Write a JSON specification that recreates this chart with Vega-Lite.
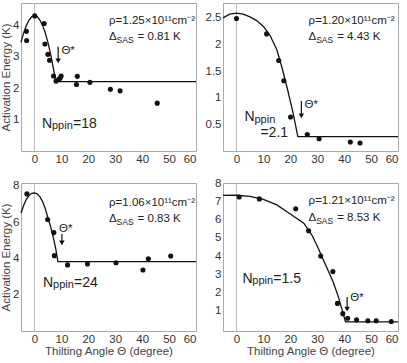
{
  "$schema": "https://vega.github.io/schema/vega-lite/v6.json",
  "padding": {"left": 0, "top": 2, "right": 0, "bottom": 0},
  "columns": 2,
  "spacing": {"row": 32, "column": 27},
  "bounds": "flush",
  "datasets": {
    "pts": [
      {"p":1,"x":-3.0,"y":3.80},{"p":1,"x":-2.9,"y":3.51},{"p":1,"x":0.1,"y":4.29},{"p":1,"x":3.6,"y":4.05},{"p":1,"x":3.9,"y":3.40},{"p":1,"x":5.0,"y":3.07},{"p":1,"x":5.6,"y":2.88},{"p":1,"x":7.1,"y":2.38},{"p":1,"x":8.0,"y":2.22},{"p":1,"x":9.0,"y":2.28},{"p":1,"x":9.5,"y":2.31},{"p":1,"x":9.9,"y":2.38},{"p":1,"x":15.6,"y":2.11},{"p":1,"x":15.9,"y":2.37},{"p":1,"x":20.6,"y":2.18},{"p":1,"x":28.2,"y":1.96},{"p":1,"x":31.8,"y":1.91},{"p":1,"x":45.6,"y":1.52},
      {"p":2,"x":0,"y":2.49},{"p":2,"x":11.2,"y":2.20},{"p":2,"x":15.7,"y":1.70},{"p":2,"x":17.6,"y":1.32},{"p":2,"x":20.1,"y":0.64},{"p":2,"x":26.3,"y":0.31},{"p":2,"x":30.7,"y":0.23},{"p":2,"x":42.3,"y":0.17},{"p":2,"x":45.9,"y":0.15},
      {"p":3,"x":-2.8,"y":7.55},{"p":3,"x":4.9,"y":6.14},{"p":3,"x":7.2,"y":5.42},{"p":3,"x":7.4,"y":4.15},{"p":3,"x":12.3,"y":3.64},{"p":3,"x":19.7,"y":3.69},{"p":3,"x":30.3,"y":3.76},{"p":3,"x":40.3,"y":3.36},{"p":3,"x":42.3,"y":3.98},{"p":3,"x":50.6,"y":4.13},
      {"p":4,"x":1.0,"y":7.23},{"p":4,"x":8.5,"y":7.13},{"p":4,"x":22.0,"y":6.59},{"p":4,"x":26.8,"y":5.39},{"p":4,"x":31.3,"y":4.0},{"p":4,"x":35.8,"y":3.15},{"p":4,"x":37.5,"y":1.41},{"p":4,"x":39.5,"y":0.85},{"p":4,"x":41.3,"y":0.6},{"p":4,"x":44.6,"y":0.51},{"p":4,"x":48.8,"y":0.46},{"p":4,"x":51.9,"y":0.46},{"p":4,"x":57.5,"y":0.42}
    ],
    "fit": [
      {"p":1,"x":-5,"y":3.45},{"p":1,"x":-4,"y":3.75},{"p":1,"x":-3,"y":3.99},{"p":1,"x":-2,"y":4.16},{"p":1,"x":-1,"y":4.27},{"p":1,"x":0,"y":4.3},{"p":1,"x":1,"y":4.27},{"p":1,"x":2,"y":4.16},{"p":1,"x":3,"y":3.99},{"p":1,"x":4,"y":3.76},{"p":1,"x":5,"y":3.45},{"p":1,"x":6,"y":3.08},{"p":1,"x":7,"y":2.63},{"p":1,"x":8,"y":2.2},{"p":1,"x":60,"y":2.2},
      {"p":2,"x":-5,"y":2.5},{"p":2,"x":-2.5,"y":2.57},{"p":2,"x":0,"y":2.59},{"p":2,"x":2.5,"y":2.57},{"p":2,"x":5,"y":2.52},{"p":2,"x":7.5,"y":2.45},{"p":2,"x":10,"y":2.34},{"p":2,"x":12.5,"y":2.17},{"p":2,"x":15,"y":1.9},{"p":2,"x":17,"y":1.55},{"p":2,"x":19,"y":1.15},{"p":2,"x":21,"y":0.72},{"p":2,"x":22.8,"y":0.27},{"p":2,"x":60,"y":0.27},
      {"p":3,"x":-5,"y":6.5},{"p":3,"x":-4,"y":6.92},{"p":3,"x":-3,"y":7.25},{"p":3,"x":-2,"y":7.47},{"p":3,"x":-1,"y":7.58},{"p":3,"x":0,"y":7.6},{"p":3,"x":1,"y":7.55},{"p":3,"x":2,"y":7.4},{"p":3,"x":3,"y":7.13},{"p":3,"x":4,"y":6.75},{"p":3,"x":5,"y":6.22},{"p":3,"x":6,"y":5.75},{"p":3,"x":7,"y":5.15},{"p":3,"x":8,"y":4.45},{"p":3,"x":8.7,"y":3.82},{"p":3,"x":60,"y":3.82},
      {"p":4,"x":-5,"y":7.32},{"p":4,"x":0,"y":7.33},{"p":4,"x":5,"y":7.27},{"p":4,"x":10,"y":7.1},{"p":4,"x":15,"y":6.8},{"p":4,"x":20,"y":6.3},{"p":4,"x":25,"y":5.8},{"p":4,"x":28,"y":5.15},{"p":4,"x":30,"y":4.55},{"p":4,"x":33,"y":3.55},{"p":4,"x":36,"y":2.55},{"p":4,"x":38,"y":1.7},{"p":4,"x":40.5,"y":0.4},{"p":4,"x":60,"y":0.4}
    ],
    "arr": [
      {"p":1,"x":8.8,"y":3.31,"y2":2.92,"yh":2.86},
      {"p":2,"x":24.1,"y":0.94,"y2":0.70,"yh":0.66},
      {"p":3,"x":10.2,"y":5.34,"y2":4.96,"yh":4.85},
      {"p":4,"x":41.1,"y":1.76,"y2":1.21,"yh":1.10}
    ],
    "ann": [
      {"p":1,"r":"m","x":27.7,"y":4.13,"t":"ρ=1.25×10¹¹cm⁻²"},
      {"p":1,"r":"m","x":27.7,"y":3.62,"t":"Δ"},
      {"p":1,"r":"s","x":30.5,"y":3.52,"t":"SAS"},
      {"p":1,"r":"m","x":38.3,"y":3.62,"t":"= 0.81 K"},
      {"p":1,"r":"N","x":2.8,"y":0.86,"t":"N"},
      {"p":1,"r":"pp","x":6.5,"y":0.79,"t":"ppin"},
      {"p":1,"r":"N","x":14.3,"y":0.86,"t":"=18"},
      {"p":1,"r":"m","x":10.0,"y":3.17,"t":"Θ*"},
      {"p":2,"r":"m","x":26.8,"y":2.44,"t":"ρ=1.20×10¹¹cm⁻²"},
      {"p":2,"r":"m","x":26.8,"y":2.14,"t":"Δ"},
      {"p":2,"r":"s","x":29.6,"y":2.08,"t":"SAS"},
      {"p":2,"r":"m","x":37.4,"y":2.14,"t":"= 4.43 K"},
      {"p":2,"r":"N","x":3.0,"y":0.63,"t":"N"},
      {"p":2,"r":"pp","x":6.7,"y":0.59,"t":"ppin"},
      {"p":2,"r":"N","x":8.9,"y":0.34,"t":"=2.1"},
      {"p":2,"r":"m","x":25.3,"y":0.86,"t":"Θ*"},
      {"p":3,"r":"m","x":27.7,"y":7.05,"t":"ρ=1.06×10¹¹cm⁻²"},
      {"p":3,"r":"m","x":27.7,"y":6.17,"t":"Δ"},
      {"p":3,"r":"s","x":30.5,"y":6.0,"t":"SAS"},
      {"p":3,"r":"m","x":38.3,"y":6.17,"t":"= 0.83 K"},
      {"p":3,"r":"N","x":3.2,"y":2.66,"t":"N"},
      {"p":3,"r":"pp","x":6.9,"y":2.55,"t":"ppin"},
      {"p":3,"r":"N","x":14.7,"y":2.66,"t":"=24"},
      {"p":3,"r":"m","x":9.1,"y":5.6,"t":"Θ*"},
      {"p":4,"r":"m","x":26.8,"y":7.02,"t":"ρ=1.21×10¹¹cm⁻²"},
      {"p":4,"r":"m","x":26.8,"y":6.10,"t":"Δ"},
      {"p":4,"r":"s","x":29.6,"y":5.94,"t":"SAS"},
      {"p":4,"r":"m","x":37.4,"y":6.10,"t":"= 8.53 K"},
      {"p":4,"r":"N","x":2.2,"y":2.73,"t":"N"},
      {"p":4,"r":"pp","x":5.9,"y":2.62,"t":"ppin"},
      {"p":4,"r":"N","x":13.7,"y":2.73,"t":"=1.5"},
      {"p":4,"r":"m","x":42.3,"y":1.72,"t":"Θ*"}
    ]
  },
  "concat": [
    {
      "width": 175, "height": 148,
      "layer": [
        {"data": {"values": [{"x": 0}]}, "mark": {"type": "rule", "color": "#bbb", "strokeWidth": 1},
         "encoding": {"x": {"field": "x", "type": "quantitative", "scale": {"domain": [-5, 60], "nice": false, "zero": false}, "axis": {"values": [0,10,20,30,40,50,60], "tickCount": 30, "format": "~g", "title": null}}}},
        {"data": {"name": "fit"}, "transform": [{"filter": "datum.p==1"}], "mark": {"type": "line", "color": "#111", "strokeWidth": 1.3},
         "encoding": {"x": {"field": "x", "type": "quantitative"}, "y": {"field": "y", "type": "quantitative", "scale": {"domain": [0, 4.7], "nice": false}, "axis": {"values": [1,2,3,4], "tickCount": 30, "format": "~g", "title": "Activation Energy (K)"}}}},
        {"data": {"name": "pts"}, "transform": [{"filter": "datum.p==1"}], "mark": {"type": "circle", "color": "#111", "size": 26, "opacity": 1},
         "encoding": {"x": {"field": "x", "type": "quantitative"}, "y": {"field": "y", "type": "quantitative"}}},
        {"data": {"name": "arr"}, "transform": [{"filter": "datum.p==1"}], "mark": {"type": "rule", "color": "#111", "strokeWidth": 1.2},
         "encoding": {"x": {"field": "x", "type": "quantitative"}, "y": {"field": "y", "type": "quantitative"}, "y2": {"field": "y2"}}},
        {"data": {"name": "arr"}, "transform": [{"filter": "datum.p==1"}], "mark": {"type": "point", "shape": "triangle-down", "filled": true, "color": "#111", "size": 30, "opacity": 1},
         "encoding": {"x": {"field": "x", "type": "quantitative"}, "y": {"field": "yh", "type": "quantitative"}}},
        {"data": {"name": "ann"}, "transform": [{"filter": "datum.p==1 && datum.r=='m'"}], "mark": {"type": "text", "fontSize": 11.5, "font": "Liberation Sans", "color": "#222", "align": "left", "baseline": "middle"},
         "encoding": {"x": {"field": "x", "type": "quantitative"}, "y": {"field": "y", "type": "quantitative"}, "text": {"field": "t"}}},
        {"data": {"name": "ann"}, "transform": [{"filter": "datum.p==1 && datum.r=='s'"}], "mark": {"type": "text", "fontSize": 8.5, "font": "Liberation Sans", "color": "#222", "align": "left", "baseline": "middle"},
         "encoding": {"x": {"field": "x", "type": "quantitative"}, "y": {"field": "y", "type": "quantitative"}, "text": {"field": "t"}}},
        {"data": {"name": "ann"}, "transform": [{"filter": "datum.p==1 && datum.r=='N'"}], "mark": {"type": "text", "fontSize": 14, "font": "Liberation Sans", "color": "#222", "align": "left", "baseline": "middle"},
         "encoding": {"x": {"field": "x", "type": "quantitative"}, "y": {"field": "y", "type": "quantitative"}, "text": {"field": "t"}}},
        {"data": {"name": "ann"}, "transform": [{"filter": "datum.p==1 && datum.r=='pp'"}], "mark": {"type": "text", "fontSize": 11, "font": "Liberation Sans", "color": "#222", "align": "left", "baseline": "middle"},
         "encoding": {"x": {"field": "x", "type": "quantitative"}, "y": {"field": "y", "type": "quantitative"}, "text": {"field": "t"}}}
      ]
    },
    {
      "width": 175, "height": 148,
      "layer": [
        {"data": {"values": [{"x": 0}]}, "mark": {"type": "rule", "color": "#bbb", "strokeWidth": 1},
         "encoding": {"x": {"field": "x", "type": "quantitative", "scale": {"domain": [-5, 60], "nice": false, "zero": false}, "axis": {"values": [0,10,20,30,40,50,60], "tickCount": 30, "format": "~g", "title": null}}}},
        {"data": {"name": "fit"}, "transform": [{"filter": "datum.p==2"}], "mark": {"type": "line", "color": "#111", "strokeWidth": 1.3},
         "encoding": {"x": {"field": "x", "type": "quantitative"}, "y": {"field": "y", "type": "quantitative", "scale": {"domain": [0, 2.78], "nice": false}, "axis": {"values": [0.5,1,1.5,2,2.5], "tickCount": 30, "format": "~g", "title": null}}}},
        {"data": {"name": "pts"}, "transform": [{"filter": "datum.p==2"}], "mark": {"type": "circle", "color": "#111", "size": 26, "opacity": 1},
         "encoding": {"x": {"field": "x", "type": "quantitative"}, "y": {"field": "y", "type": "quantitative"}}},
        {"data": {"name": "arr"}, "transform": [{"filter": "datum.p==2"}], "mark": {"type": "rule", "color": "#111", "strokeWidth": 1.2},
         "encoding": {"x": {"field": "x", "type": "quantitative"}, "y": {"field": "y", "type": "quantitative"}, "y2": {"field": "y2"}}},
        {"data": {"name": "arr"}, "transform": [{"filter": "datum.p==2"}], "mark": {"type": "point", "shape": "triangle-down", "filled": true, "color": "#111", "size": 30, "opacity": 1},
         "encoding": {"x": {"field": "x", "type": "quantitative"}, "y": {"field": "yh", "type": "quantitative"}}},
        {"data": {"name": "ann"}, "transform": [{"filter": "datum.p==2 && datum.r=='m'"}], "mark": {"type": "text", "fontSize": 11.5, "font": "Liberation Sans", "color": "#222", "align": "left", "baseline": "middle"},
         "encoding": {"x": {"field": "x", "type": "quantitative"}, "y": {"field": "y", "type": "quantitative"}, "text": {"field": "t"}}},
        {"data": {"name": "ann"}, "transform": [{"filter": "datum.p==2 && datum.r=='s'"}], "mark": {"type": "text", "fontSize": 8.5, "font": "Liberation Sans", "color": "#222", "align": "left", "baseline": "middle"},
         "encoding": {"x": {"field": "x", "type": "quantitative"}, "y": {"field": "y", "type": "quantitative"}, "text": {"field": "t"}}},
        {"data": {"name": "ann"}, "transform": [{"filter": "datum.p==2 && datum.r=='N'"}], "mark": {"type": "text", "fontSize": 14, "font": "Liberation Sans", "color": "#222", "align": "left", "baseline": "middle"},
         "encoding": {"x": {"field": "x", "type": "quantitative"}, "y": {"field": "y", "type": "quantitative"}, "text": {"field": "t"}}},
        {"data": {"name": "ann"}, "transform": [{"filter": "datum.p==2 && datum.r=='pp'"}], "mark": {"type": "text", "fontSize": 11, "font": "Liberation Sans", "color": "#222", "align": "left", "baseline": "middle"},
         "encoding": {"x": {"field": "x", "type": "quantitative"}, "y": {"field": "y", "type": "quantitative"}, "text": {"field": "t"}}}
      ]
    },
    {
      "width": 175, "height": 148,
      "layer": [
        {"data": {"values": [{"x": 0}]}, "mark": {"type": "rule", "color": "#bbb", "strokeWidth": 1},
         "encoding": {"x": {"field": "x", "type": "quantitative", "scale": {"domain": [-5, 60], "nice": false, "zero": false}, "axis": {"values": [0,10,20,30,40,50,60], "tickCount": 30, "format": "~g", "title": "Thilting Angle Θ (degree)"}}}},
        {"data": {"name": "fit"}, "transform": [{"filter": "datum.p==3"}], "mark": {"type": "line", "color": "#111", "strokeWidth": 1.3},
         "encoding": {"x": {"field": "x", "type": "quantitative"}, "y": {"field": "y", "type": "quantitative", "scale": {"domain": [0, 8.15], "nice": false}, "axis": {"values": [2,4,6,8], "tickCount": 30, "format": "~g", "title": "Activation Energy (K)"}}}},
        {"data": {"name": "pts"}, "transform": [{"filter": "datum.p==3"}], "mark": {"type": "circle", "color": "#111", "size": 26, "opacity": 1},
         "encoding": {"x": {"field": "x", "type": "quantitative"}, "y": {"field": "y", "type": "quantitative"}}},
        {"data": {"name": "arr"}, "transform": [{"filter": "datum.p==3"}], "mark": {"type": "rule", "color": "#111", "strokeWidth": 1.2},
         "encoding": {"x": {"field": "x", "type": "quantitative"}, "y": {"field": "y", "type": "quantitative"}, "y2": {"field": "y2"}}},
        {"data": {"name": "arr"}, "transform": [{"filter": "datum.p==3"}], "mark": {"type": "point", "shape": "triangle-down", "filled": true, "color": "#111", "size": 30, "opacity": 1},
         "encoding": {"x": {"field": "x", "type": "quantitative"}, "y": {"field": "yh", "type": "quantitative"}}},
        {"data": {"name": "ann"}, "transform": [{"filter": "datum.p==3 && datum.r=='m'"}], "mark": {"type": "text", "fontSize": 11.5, "font": "Liberation Sans", "color": "#222", "align": "left", "baseline": "middle"},
         "encoding": {"x": {"field": "x", "type": "quantitative"}, "y": {"field": "y", "type": "quantitative"}, "text": {"field": "t"}}},
        {"data": {"name": "ann"}, "transform": [{"filter": "datum.p==3 && datum.r=='s'"}], "mark": {"type": "text", "fontSize": 8.5, "font": "Liberation Sans", "color": "#222", "align": "left", "baseline": "middle"},
         "encoding": {"x": {"field": "x", "type": "quantitative"}, "y": {"field": "y", "type": "quantitative"}, "text": {"field": "t"}}},
        {"data": {"name": "ann"}, "transform": [{"filter": "datum.p==3 && datum.r=='N'"}], "mark": {"type": "text", "fontSize": 14, "font": "Liberation Sans", "color": "#222", "align": "left", "baseline": "middle"},
         "encoding": {"x": {"field": "x", "type": "quantitative"}, "y": {"field": "y", "type": "quantitative"}, "text": {"field": "t"}}},
        {"data": {"name": "ann"}, "transform": [{"filter": "datum.p==3 && datum.r=='pp'"}], "mark": {"type": "text", "fontSize": 11, "font": "Liberation Sans", "color": "#222", "align": "left", "baseline": "middle"},
         "encoding": {"x": {"field": "x", "type": "quantitative"}, "y": {"field": "y", "type": "quantitative"}, "text": {"field": "t"}}}
      ]
    },
    {
      "width": 175, "height": 148,
      "layer": [
        {"data": {"values": [{"x": 0}]}, "mark": {"type": "rule", "color": "#bbb", "strokeWidth": 1},
         "encoding": {"x": {"field": "x", "type": "quantitative", "scale": {"domain": [-5, 60], "nice": false, "zero": false}, "axis": {"values": [0,10,20,30,40,50,60], "tickCount": 30, "format": "~g", "title": "Thilting Angle Θ (degree)"}}}},
        {"data": {"name": "fit"}, "transform": [{"filter": "datum.p==4"}], "mark": {"type": "line", "color": "#111", "strokeWidth": 1.3},
         "encoding": {"x": {"field": "x", "type": "quantitative"}, "y": {"field": "y", "type": "quantitative", "scale": {"domain": [-0.1, 8.0], "nice": false, "zero": false}, "axis": {"values": [1,2,3,4,5,6,7,8], "tickCount": 30, "format": "~g", "title": null}}}},
        {"data": {"name": "pts"}, "transform": [{"filter": "datum.p==4"}], "mark": {"type": "circle", "color": "#111", "size": 26, "opacity": 1},
         "encoding": {"x": {"field": "x", "type": "quantitative"}, "y": {"field": "y", "type": "quantitative"}}},
        {"data": {"name": "arr"}, "transform": [{"filter": "datum.p==4"}], "mark": {"type": "rule", "color": "#111", "strokeWidth": 1.2},
         "encoding": {"x": {"field": "x", "type": "quantitative"}, "y": {"field": "y", "type": "quantitative"}, "y2": {"field": "y2"}}},
        {"data": {"name": "arr"}, "transform": [{"filter": "datum.p==4"}], "mark": {"type": "point", "shape": "triangle-down", "filled": true, "color": "#111", "size": 30, "opacity": 1},
         "encoding": {"x": {"field": "x", "type": "quantitative"}, "y": {"field": "yh", "type": "quantitative"}}},
        {"data": {"name": "ann"}, "transform": [{"filter": "datum.p==4 && datum.r=='m'"}], "mark": {"type": "text", "fontSize": 11.5, "font": "Liberation Sans", "color": "#222", "align": "left", "baseline": "middle"},
         "encoding": {"x": {"field": "x", "type": "quantitative"}, "y": {"field": "y", "type": "quantitative"}, "text": {"field": "t"}}},
        {"data": {"name": "ann"}, "transform": [{"filter": "datum.p==4 && datum.r=='s'"}], "mark": {"type": "text", "fontSize": 8.5, "font": "Liberation Sans", "color": "#222", "align": "left", "baseline": "middle"},
         "encoding": {"x": {"field": "x", "type": "quantitative"}, "y": {"field": "y", "type": "quantitative"}, "text": {"field": "t"}}},
        {"data": {"name": "ann"}, "transform": [{"filter": "datum.p==4 && datum.r=='N'"}], "mark": {"type": "text", "fontSize": 14, "font": "Liberation Sans", "color": "#222", "align": "left", "baseline": "middle"},
         "encoding": {"x": {"field": "x", "type": "quantitative"}, "y": {"field": "y", "type": "quantitative"}, "text": {"field": "t"}}},
        {"data": {"name": "ann"}, "transform": [{"filter": "datum.p==4 && datum.r=='pp'"}], "mark": {"type": "text", "fontSize": 11, "font": "Liberation Sans", "color": "#222", "align": "left", "baseline": "middle"},
         "encoding": {"x": {"field": "x", "type": "quantitative"}, "y": {"field": "y", "type": "quantitative"}, "text": {"field": "t"}}}
      ]
    }
  ],
  "config": {
    "view": {"stroke": "#aaa", "strokeWidth": 1},
    "axis": {"labelFont": "Liberation Sans", "labelFontSize": 11.5, "labelColor": "#333", "labelOverlap": false, "titleFont": "Liberation Sans", "titleFontSize": 11.5, "titleFontWeight": "normal", "titleColor": "#444", "ticks": false, "domain": false, "grid": false, "labelPadding": 2, "titlePadding": 1, "labelBound": false}
  }
}
